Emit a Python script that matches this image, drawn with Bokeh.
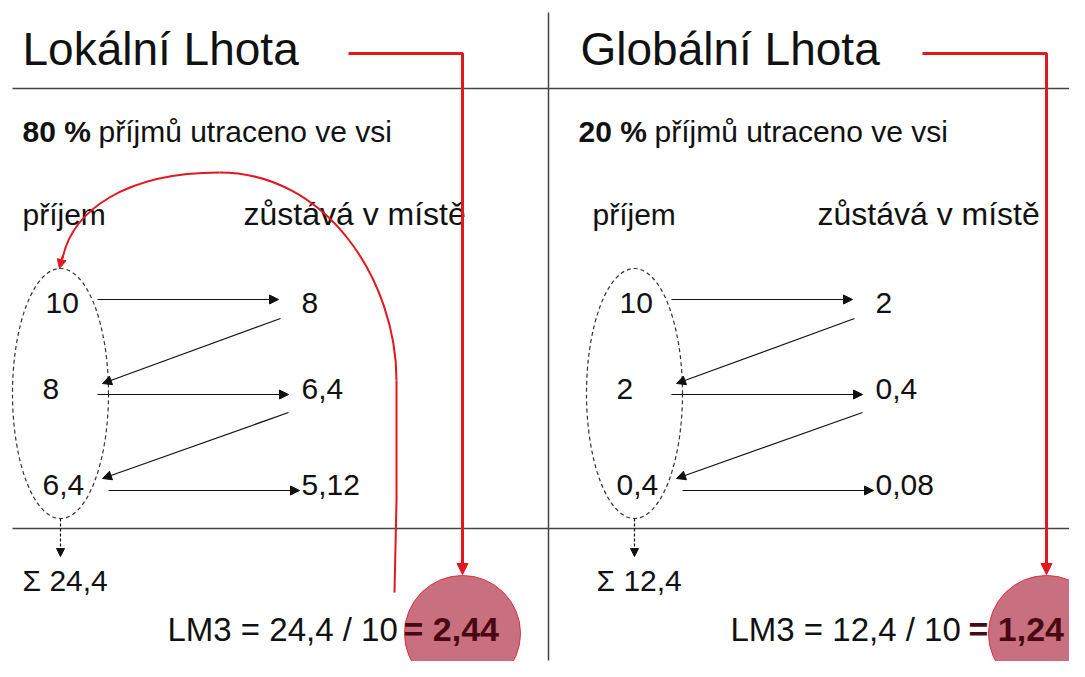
from bokeh.plotting import figure
from bokeh.models import Range1d, Arrow, NormalHead, ColumnDataSource
from bokeh.core.properties import value
from bokeh.embed import file_html
from bokeh.resources import INLINE

# ---- data ----
titles = ["Lokální Lhota", "Globální Lhota"]
spent_share = [80, 20]              # % of income spent in the village
income_local = [10, 8, 6.4]
kept_local = [8, 6.4, 5.12]
income_global = [10, 2, 0.4]
kept_global = [2, 0.4, 0.08]
initial_income = [10, 10]
totals = [24.4, 12.4]
lm3 = [2.44, 1.24]
incomes = [income_local, income_global]
kepts = [kept_local, kept_global]

def fmt(v):
    return f"{v:g}".replace(".", ",")

FONT = value("Liberation Sans")
BLACK = "#111111"
RED = "#e3171e"

W, H = 1069, 661
p = figure(width=W, height=H, x_range=Range1d(0, W), y_range=Range1d(H, 0),
           output_backend="svg", toolbar_location=None,
           x_axis_location=None, y_axis_location=None, min_border=0)
p.grid.visible = False
p.outline_line_color = None
p.background_fill_color = "white"
p.border_fill_color = "white"

def T(x, y, text, size, bold=False, color=BLACK):
    # y given as the reference baseline; shift by the svg baseline offset
    p.text(x=x, y=[yy - 0.4 * size for yy in y], text=text, text_font=FONT,
           text_font_size=f"{size}px", text_font_style="bold" if bold else "normal",
           text_color=color, text_baseline="alphabetic")

# ---- layout constants ----
dx = [0, 574]
title_x = [22, 580]
sub_x = [22, 578]
prijem_x = [22, 592]
red_x = [462, 1046]
red_h_start = [348, 922]
row_base = [314, 400, 496]
left_col_dx = [45, 42, 42]
lm3_x = [167, 730]
lm3_bold_x = [403, 968]

# frame lines
p.segment(x0=[12, 12, 548], y0=[88, 528, 12], x1=[1085, 1085, 548], y1=[88, 528, 660],
          line_color="#444444", line_width=1.5)

# result circles (below text)
p.circle(x=red_x, y=[633, 633], radius=58, fill_color="#c97080", fill_alpha=1.0,
         line_color="#e0303a", line_width=1)

for i in range(2):
    o = dx[i]
    T([title_x[i]], [67], [titles[i]], 46)
    T([sub_x[i]], [143], [f"{spent_share[i]} %"], 30, bold=True)
    T([sub_x[i] + 76], [143], ["příjmů utraceno ve vsi"], 30)
    T([prijem_x[i]], [226], ["příjem"], 30)
    T([243 + o], [226], ["zůstává v místě"], 32)
    T([o + d for d in left_col_dx], row_base, [fmt(v) for v in incomes[i]], 30)
    T([301 + o] * 3, row_base, [fmt(v) for v in kepts[i]], 30)
    arr = ColumnDataSource(dict(
        xs=[97 + o, 280 + o, 97 + o, 288 + o, 108 + o],
        ys=[299, 318, 394, 412, 490],
        xe=[278 + o, 102 + o, 288 + o, 102 + o, 299 + o],
        ye=[299, 383, 394, 478, 490]))
    p.add_layout(Arrow(end=NormalHead(size=9, fill_color=BLACK, line_color=BLACK),
                       x_start="xs", y_start="ys", x_end="xe", y_end="ye", source=arr,
                       line_color=BLACK, line_width=1.2))
    p.ellipse(x=[60 + o], y=[393], width=96, height=250, fill_color=None,
              line_color="#333333", line_dash="4 3", line_width=1.2)
    p.add_layout(Arrow(end=NormalHead(size=8, fill_color=BLACK, line_color=BLACK),
                       x_start=60 + o, y_start=518, x_end=60 + o, y_end=556,
                       line_color=BLACK, line_width=1.2, line_dash="3 2"))
    T([22 + o], [592], [f"Σ {fmt(totals[i])}"], 30)
    p.line(x=[red_h_start[i], red_x[i], red_x[i]], y=[53, 53, 565], line_color=RED,
           line_width=3)
    p.add_layout(Arrow(end=NormalHead(size=11, fill_color=RED, line_color=RED),
                       x_start=red_x[i], y_start=555, x_end=red_x[i], y_end=574,
                       line_color=RED, line_width=3))
    T([lm3_x[i]], [642], [f"LM3 = {fmt(totals[i])} / {initial_income[i]}"], 33)
    T([lm3_bold_x[i]], [642], [f"= {fmt(lm3[i])}"], 34, bold=True, color="#4a0812")

# red feedback curve (left panel)
p.line(x=[394, 396, 396], y=[592, 500, 380], line_color=RED, line_width=2)
p.bezier(x0=[396], y0=[380], x1=[219], y1=[172], cx0=[396], cy0=[280], cx1=[326], cy1=[172],
         line_color=RED, line_width=2)
p.bezier(x0=[219], y0=[172], x1=[62], y1=[258], cx0=[125], cy0=[172], cx1=[72], cy1=[210],
         line_color=RED, line_width=2)
p.add_layout(Arrow(end=NormalHead(size=9, fill_color=RED, line_color=RED),
                   x_start=62, y_start=256, x_end=59, y_end=268,
                   line_color=RED, line_width=2))

open("out.html", "w").write(file_html(p, INLINE))
